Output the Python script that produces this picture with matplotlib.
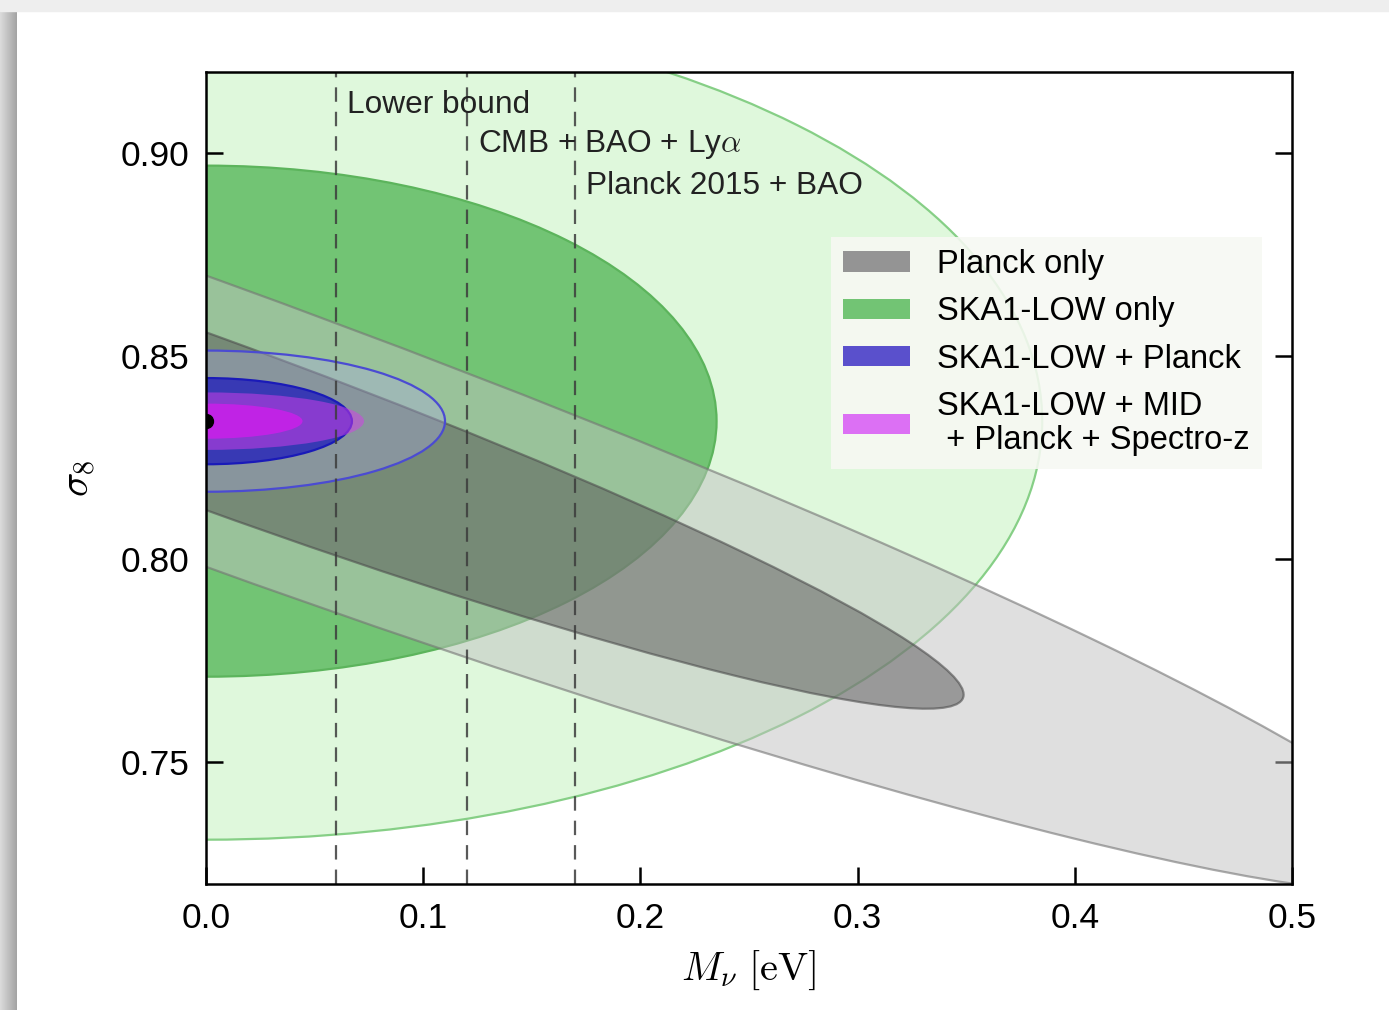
import numpy as np
import matplotlib
matplotlib.use('Agg')
import matplotlib.pyplot as plt
from matplotlib.patches import Ellipse, Patch, Rectangle
from matplotlib.ticker import FormatStrFormatter

plt.rcParams['font.family'] = ['Liberation Sans', 'DejaVu Sans']
plt.rcParams['mathtext.fontset'] = 'cm'

# fiducial point and 1-sigma errors / correlation per experiment
fid_mnu = 0.0
fid_s8 = 0.834
experiments = ['Planck only', 'SKA1-LOW only', 'SKA1-LOW + Planck',
               'SKA1-LOW + MID\n + Planck + Spectro-z']
sigma_mnu = [0.230, 0.155, 0.0443, 0.0293]
sigma_s8 = [0.0467, 0.0415, 0.0070, 0.00285]
rho = [-0.951, 0.0, 0.0, 0.0]

# delta chi^2 for 68% and 95% with 2 parameters
dchi2 = [2.30, 6.17]

bounds_mnu = [0.06, 0.12, 0.17]
bound_labels = ['Lower bound', r'CMB + BAO + Ly$\alpha$', 'Planck 2015 + BAO']
bound_text_y = [0.9118, 0.9022, 0.8918]

xticks = [0.0, 0.1, 0.2, 0.3, 0.4, 0.5]
yticks = [0.75, 0.80, 0.85, 0.90]

# colours: (2-sigma face, 2-sigma edge, 1-sigma face, 1-sigma edge)
styles = [
    dict(f2=(0.757, 0.757, 0.757, 0.5), e2=(0.45, 0.45, 0.45, 0.6),
         f1=(0.33, 0.33, 0.33, 0.5), e1=(0.3, 0.3, 0.3, 0.6)),
    dict(f2='#dff8dc', e2='#86cf86', f1='#72c474', e1='#5cb45c'),
    dict(f2=(0.667, 0.667, 0.902, 0.35), e2='#4b4bd2',
         f1=(0.21, 0.21, 0.71, 0.97), e1='#1a1ab8'),
    dict(f2=(0.84, 0.24, 0.92, 0.5), e2='none',
         f1=(0.78, 0.13, 0.91, 0.9), e1='none'),
]
legend_colors = ['#949494', '#72c474', '#5a50cc', '#dc70f4']


def add_ellipse(ax, sx, sy, r, k, **kw):
    cov = np.array([[sx**2, r*sx*sy], [r*sx*sy, sy**2]])
    vals, vecs = np.linalg.eigh(cov)
    ang = np.degrees(np.arctan2(vecs[1, 1], vecs[0, 1]))
    w = 2*np.sqrt(k*vals[1])
    h = 2*np.sqrt(k*vals[0])
    ax.add_patch(Ellipse((fid_mnu, fid_s8), w, h, angle=ang, **kw))


fig = plt.figure(figsize=(13.89, 10.10), dpi=100, facecolor='white')

# page frame / shadow
fig.patches.append(Rectangle((0, 1-11/1010), 1, 11/1010, transform=fig.transFigure,
                             color='#eeeeee', zorder=0))
bg = fig.add_axes([0, 0, 17/1389, 1-11/1010])
bg.imshow(np.linspace(0.86, 0.64, 50)[None, :], cmap='gray', vmin=0, vmax=1,
          aspect='auto', extent=[0, 1, 0, 1])
bg.axis('off')

ax = fig.add_axes([206/1389, 1-884/1010, (1292-206)/1389, (884-72)/1010])

order = [1, 0, 2, 3]
z = 1
for i in order:
    st = styles[i]
    add_ellipse(ax, sigma_mnu[i], sigma_s8[i], rho[i], dchi2[1],
                facecolor=st['f2'], edgecolor=st['e2'], lw=1.6, zorder=z)
    add_ellipse(ax, sigma_mnu[i], sigma_s8[i], rho[i], dchi2[0],
                facecolor=st['f1'], edgecolor=st['e1'], lw=1.6, zorder=z+1)
    z += 2

ax.plot([fid_mnu], [fid_s8], 'o', color='black', ms=10, zorder=20, clip_on=True)

for xb, lab, ty in zip(bounds_mnu, bound_labels, bound_text_y):
    ax.axvline(xb, color='#3c3c3c', lw=1.6, ls=(0, (6.5, 4.5)), alpha=0.85, zorder=21)
    ax.text(xb + 0.005, ty, lab, fontsize=22.8, va='center', ha='left',
            color='#222222', zorder=22)

ax.set_xlim(0, 0.5)
ax.set_ylim(0.72, 0.92)
ax.set_xticks(xticks)
ax.set_yticks(yticks)
ax.xaxis.set_major_formatter(FormatStrFormatter('%.1f'))
ax.yaxis.set_major_formatter(FormatStrFormatter('%.2f'))
ax.tick_params(axis='both', direction='in', length=12, width=1.8, labelsize=25.5,
               pad=12, colors='black')
ax.tick_params(axis='x', pad=13)
ax.tick_params(axis='y', right=True, left=True)
ax.tick_params(axis='x', top=False)
for s in ax.spines.values():
    s.set_linewidth(1.8)
    s.set_zorder(30)

ax.set_xlabel(r'$M_\nu\ [\mathrm{eV}]$', fontsize=29, labelpad=10)
ax.set_ylabel(r'$\sigma_8$', fontsize=29, labelpad=16)

handles = [Patch(facecolor=c, edgecolor='none') for c in legend_colors]
leg = ax.legend(handles, experiments, loc='upper left', bbox_to_anchor=(0.5755, 0.797),
                borderaxespad=0, fontsize=23.5, frameon=True, fancybox=False,
                handlelength=2.05, handleheight=0.58, handletextpad=0.83,
                borderpad=0.37, labelspacing=0.5)
leg.get_frame().set_facecolor('#f7f9f3')
leg.get_frame().set_edgecolor('none')
leg.get_frame().set_alpha(0.88)
leg.set_zorder(25)
for t in leg.get_texts():
    t.set_linespacing(1.15)

fig.savefig('out.png', dpi=100, facecolor='white')
